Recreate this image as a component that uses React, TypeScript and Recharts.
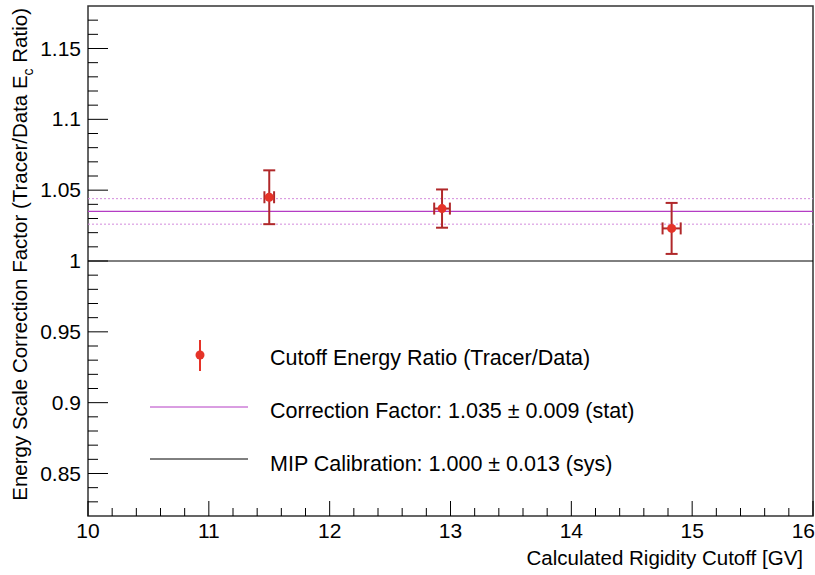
import React from 'react';
import {
  ComposedChart,
  Scatter,
  ErrorBar,
  XAxis,
  YAxis,
  ReferenceLine,
  ReferenceArea,
  Legend,
} from 'recharts';

// measured points
const rigidity = [11.5, 12.93, 14.83];
const rigidityErr = [0.04, 0.065, 0.075];
const ratio = [1.045, 1.037, 1.023];
const ratioErr = [0.019, 0.0135, 0.018];

const correction = 1.035;
const correctionErr = 0.009;
const mipCalibration = 1.0;

const xMajor = [10, 11, 12, 13, 14, 15, 16];
const yMajor = [0.85, 0.9, 0.95, 1, 1.05, 1.1, 1.15];

const legendLabels = [
  'Cutoff Energy Ratio (Tracer/Data)',
  'Correction Factor: 1.035 \u00b1 0.009 (stat)',
  'MIP Calibration: 1.000 \u00b1 0.013 (sys)',
];

const FONT = '"Liberation Sans", Arial, Helvetica, sans-serif';
const RED = '#e53328';
const DARK_RED = '#b0282a';
const MAGENTA = '#b43cc4';
const MAGENTA_LIGHT = '#d48bdc';

const points = rigidity.map((x, i) => ({
  x,
  y: ratio[i],
  xErr: rigidityErr[i],
  yErr: ratioErr[i],
}));

// minor tick positions (axis decoration only)
const steps = (from: number, to: number, step: number) => {
  const out: number[] = [];
  for (let v = from; v <= to + 1e-9; v += step) out.push(Math.round(v * 100) / 100);
  return out;
};
const xTicks = steps(10, 16, 0.2);
const yTicks = steps(0.83, 1.17, 0.01);

const isMajor = (list: number[], v: number) => list.some((m) => Math.abs(m - v) < 1e-6);

const XTick = (props: any) => {
  const { x, y, payload } = props;
  const major = isMajor(xMajor, payload.value);
  const last = Math.abs(payload.value - 16) < 1e-6;
  return (
    <g>
      <line x1={x} x2={x} y1={y} y2={y - (major ? 15 : 8)} stroke="#000" strokeWidth={1} />
      {major && (
        <text
          x={last ? x + 2 : x}
          y={y + 22}
          textAnchor={last ? 'end' : 'middle'}
          fontSize={21}
          fontFamily={FONT}
          fill="#000"
        >
          {payload.value}
        </text>
      )}
    </g>
  );
};

const YTick = (props: any) => {
  const { x, y, payload } = props;
  const major = isMajor(yMajor, payload.value);
  return (
    <g>
      <line x1={x} x2={x + (major ? 20 : 10)} y1={y} y2={y} stroke="#000" strokeWidth={1} />
      {major && (
        <text x={x - 7} y={y + 7} textAnchor="end" fontSize={21} fontFamily={FONT} fill="#000">
          {String(payload.value)}
        </text>
      )}
    </g>
  );
};

const LegendBox = () => (
  <svg width={520} height={160} style={{ overflow: 'visible' }}>
    <line x1={60} x2={60} y1={10} y2={41} stroke={RED} strokeWidth={2} />
    <circle cx={60} cy={25} r={4.5} fill={RED} />
    <line x1={10} x2={108} y1={77} y2={77} stroke={MAGENTA} strokeWidth={1} />
    <line x1={10} x2={108} y1={129} y2={129} stroke="#000" strokeWidth={1} />
    {legendLabels.map((t, i) => (
      <text key={t} x={130} y={35 + i * 53} fontSize={21.5} fontFamily={FONT} fill="#000">
        {t}
      </text>
    ))}
  </svg>
);

export default function App() {
  return (
    <div style={{ position: 'absolute', left: 0, top: 0, background: '#fff' }}>
      <ComposedChart
        width={815}
        height={575}
        data={points}
        margin={{ top: 6, right: 2, left: 8, bottom: 0 }}
      >
        <XAxis
          type="number"
          dataKey="x"
          domain={[10, 16]}
          ticks={xTicks}
          interval={0}
          tickSize={0}
          tickMargin={0}
          height={59}
          axisLine={false}
          tick={<XTick />}
          allowDataOverflow
          label={{
            content: () => (
              <text x={803} y={565} textAnchor="end" fontSize={20.5} fontFamily={FONT} fill="#000">
                Calculated Rigidity Cutoff [GV]
              </text>
            ),
          }}
        />
        <YAxis
          type="number"
          dataKey="y"
          domain={[0.82, 1.18]}
          ticks={yTicks}
          interval={0}
          tickSize={0}
          tickMargin={0}
          width={80}
          axisLine={false}
          tick={<YTick />}
          allowDataOverflow
          label={{
            content: () => (
              <text
                transform="translate(27, 8) rotate(-90)"
                textAnchor="end"
                fontSize={20.5}
                fontFamily={FONT}
                fill="#000"
              >
                Energy Scale Correction Factor (Tracer/Data E
                <tspan fontSize={14} dy={6}>c</tspan>
                <tspan dy={-6}> Ratio)</tspan>
              </text>
            ),
          }}
        />
        <ReferenceArea
          x1={10}
          x2={16}
          y1={0.82}
          y2={1.18}
          fill="none"
          stroke="#333"
          strokeWidth={1.5}
        />
        <ReferenceLine y={mipCalibration} stroke="#000" strokeWidth={1} />
        <ReferenceLine
          y={correction + correctionErr}
          stroke={MAGENTA_LIGHT}
          strokeDasharray="2 2"
          strokeWidth={1}
        />
        <ReferenceLine
          y={correction - correctionErr}
          stroke={MAGENTA_LIGHT}
          strokeDasharray="2 2"
          strokeWidth={1}
        />
        <ReferenceLine y={correction} stroke={MAGENTA} strokeWidth={1.2} />
        <Scatter
          dataKey="y"
          fill={RED}
          isAnimationActive={false}
          shape={(p: any) => <circle cx={p.cx} cy={p.cy} r={4.5} fill={RED} />}
        >
          <ErrorBar dataKey="yErr" direction="y" stroke={DARK_RED} strokeWidth={2} width={6} />
          <ErrorBar dataKey="xErr" direction="x" stroke={DARK_RED} strokeWidth={2} width={6} />
        </Scatter>
        <Legend
          layout="horizontal"
          verticalAlign="middle"
          align="center"
          wrapperStyle={{ left: 140, top: 330, width: 520, height: 160 }}
          content={() => <LegendBox />}
        />
      </ComposedChart>
    </div>
  );
}
